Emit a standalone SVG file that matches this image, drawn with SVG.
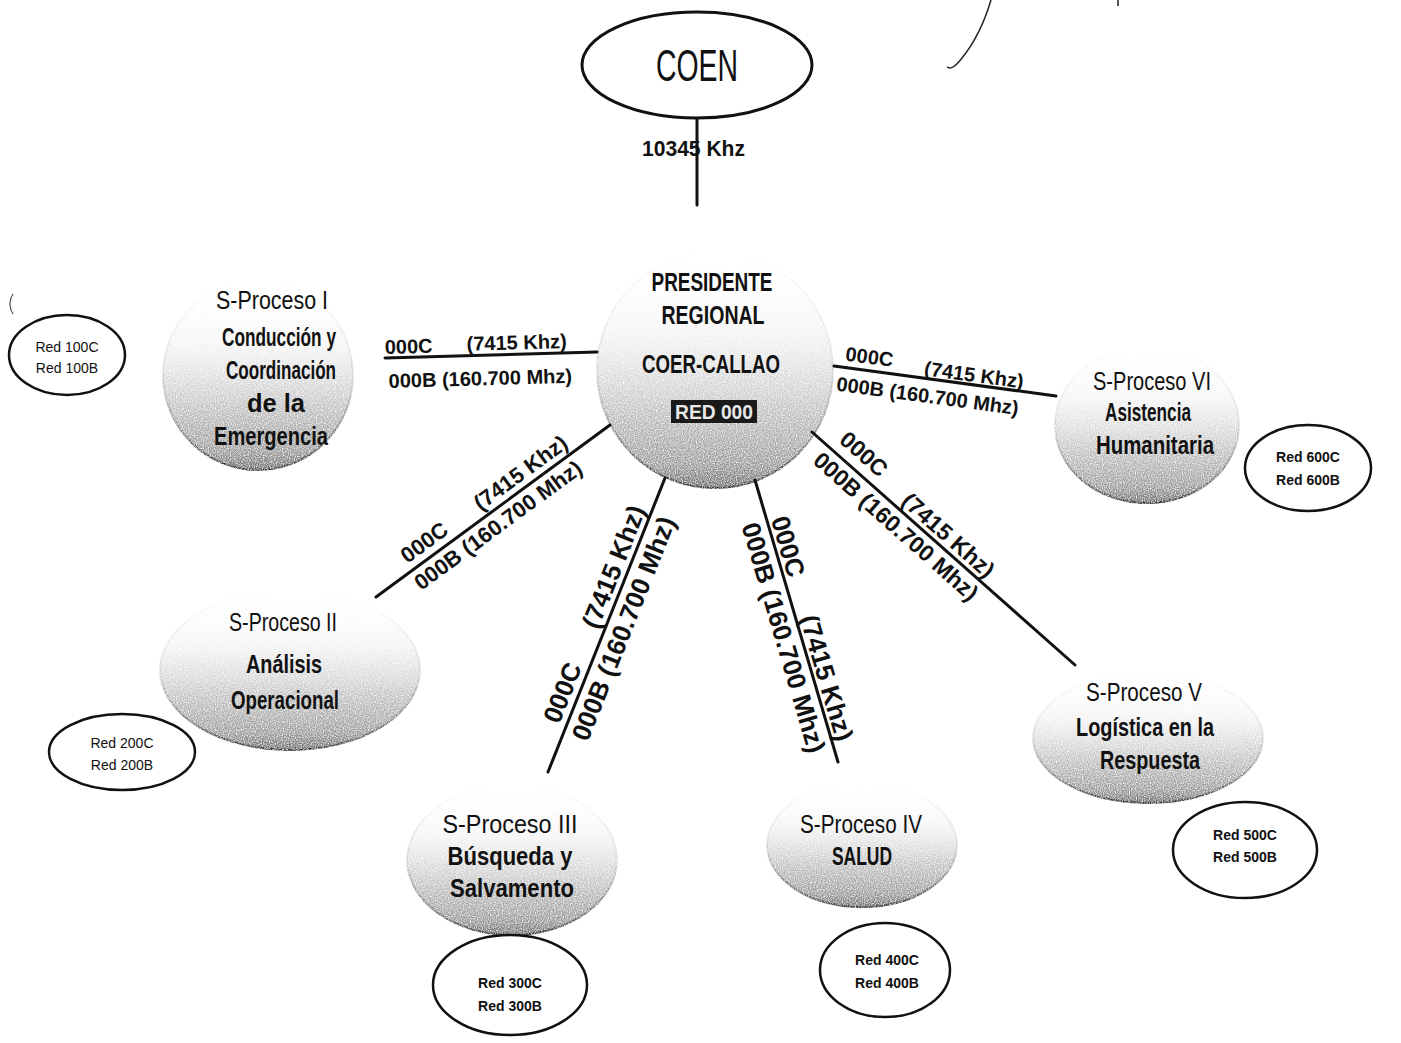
<svg xmlns="http://www.w3.org/2000/svg" width="1401" height="1043" viewBox="0 0 1401 1043">
<style>
.t{font-family:"Liberation Sans",Arial,sans-serif;fill:#111;text-anchor:middle}
.b{font-weight:bold}
.lbl{font-family:"Liberation Sans",Arial,sans-serif;font-weight:bold;fill:#111}
.red{fill:#fff;stroke:#111;stroke-width:2.5}
.rt{font-family:"Liberation Sans",Arial,sans-serif;font-size:14px;fill:#111;text-anchor:middle}
.conn{stroke:#111;stroke-width:3;fill:none;stroke-linecap:round}
.bowl{fill:url(#bowlG);stroke:url(#rimG);stroke-width:2;filter:url(#spk)}
</style>
<defs>
<linearGradient id="bowlG" x1="0" y1="0" x2="0" y2="1">
<stop offset="0" stop-color="#ffffff" stop-opacity="0"/>
<stop offset="0.35" stop-color="#eeeeee" stop-opacity="0.7"/>
<stop offset="0.65" stop-color="#c4c4c4"/>
<stop offset="0.9" stop-color="#9a9a9a"/>
<stop offset="1" stop-color="#6e6e6e"/>
</linearGradient>
<linearGradient id="rimG" x1="0" y1="0" x2="0" y2="1">
<stop offset="0" stop-color="#999" stop-opacity="0"/>
<stop offset="0.5" stop-color="#999" stop-opacity="0.3"/>
<stop offset="1" stop-color="#333"/>
</linearGradient>
<filter id="spk" x="-5%" y="-5%" width="110%" height="110%">
<feTurbulence type="fractalNoise" baseFrequency="0.85" numOctaves="1" seed="3" result="n"/>
<feColorMatrix in="n" type="matrix" values="0 0 0 0 0  0 0 0 0 0  0 0 0 0 0  2.2 0 0 0 -0.35" result="m"/>
<feComposite in="SourceGraphic" in2="m" operator="in"/>
</filter>
</defs>
<rect width="1401" height="1043" fill="#fff"/>

<g id="marks" fill="none" stroke="#222" stroke-width="1.5">
<path d="M991 0 C985 20 975 42 962 58 C956 66 951 70 947 67"/>
<path d="M1118 0 L1118 6"/>
<path d="M13 294 C9 300 9 308 13 314" stroke-width="1"/>
</g>

<g id="node-center">
<circle class="bowl" cx="715" cy="370" r="118"/>
<text class="t b" x="712" y="291" font-size="25" textLength="121" lengthAdjust="spacingAndGlyphs">PRESIDENTE</text>
<text class="t b" x="713" y="324" font-size="25" textLength="103" lengthAdjust="spacingAndGlyphs">REGIONAL</text>
<text class="t b" x="711" y="373" font-size="25" textLength="138" lengthAdjust="spacingAndGlyphs">COER-CALLAO</text>
<rect x="671" y="400" width="86" height="23" fill="#1a1a1a"/>
<text class="t b" x="714" y="419" font-size="21" style="fill:#e8e8e8" textLength="78" lengthAdjust="spacingAndGlyphs">RED 000</text>
</g>

<g id="connectors">
<line class="conn" x1="697" y1="118" x2="697" y2="205" stroke-width="2"/>
<line class="conn" x1="385" y1="358" x2="597" y2="352"/>
<line class="conn" x1="834" y1="366" x2="1056" y2="396"/>
<line class="conn" x1="376" y1="597" x2="610" y2="425"/>
<line class="conn" x1="548" y1="772" x2="665" y2="478"/>
<line class="conn" x1="755" y1="480" x2="838" y2="762"/>
<line class="conn" x1="812" y1="432" x2="1075" y2="665"/>
<text class="lbl" x="642" y="156" font-size="22" textLength="103" lengthAdjust="spacingAndGlyphs">10345 Khz</text>
<g transform="translate(385,358) rotate(-1.6)" font-size="20">
<text class="lbl" x="0" y="-4">000C</text>
<text class="lbl" x="82" y="-5">(7415 Khz)</text>
<text class="lbl" x="3" y="30">000B (160.700 Mhz)</text>
</g>
<g transform="translate(834,366) rotate(7.7)" font-size="20">
<text class="lbl" x="10" y="-7">000C</text>
<text class="lbl" x="90" y="-3">(7415 Khz)</text>
<text class="lbl" x="5" y="24">000B (160.700 Mhz)</text>
</g>
<g transform="translate(376,597) rotate(-36.3)" font-size="22">
<text class="lbl" x="45" y="-8">000C</text>
<text class="lbl" x="135" y="-7">(7415 Khz)</text>
<text class="lbl" x="40" y="22">000B (160.700 Mhz)</text>
</g>
<g transform="translate(548,772) rotate(-68.3)" font-size="26">
<text class="lbl" x="48" y="-7">000C</text>
<text class="lbl" x="150" y="-6">(7415 Khz)</text>
<text class="lbl" x="42" y="26">000B (160.700 Mhz)</text>
</g>
<g transform="translate(755,480) rotate(73.6)" font-size="26">
<text class="lbl" x="42" y="-4">000C</text>
<text class="lbl" x="145" y="-4">(7415 Khz)</text>
<text class="lbl" x="40" y="26">000B (160.700 Mhz)</text>
</g>
<g transform="translate(812,432) rotate(41.5)" font-size="23">
<text class="lbl" x="26" y="-10">000C</text>
<text class="lbl" x="113" y="-5">(7415 Khz)</text>
<text class="lbl" x="20" y="23">000B (160.700 Mhz)</text>
</g>
</g>

<g id="node-coen">
<ellipse cx="697" cy="65" rx="115" ry="53" fill="#fff" stroke="#111" stroke-width="3"/>
<text class="t" x="697" y="81" font-size="44" textLength="82" lengthAdjust="spacingAndGlyphs">COEN</text>
</g>

<g id="node-s1">
<ellipse class="bowl" cx="258" cy="375" rx="95" ry="95"/>
<text class="t" x="272" y="309" font-size="25" textLength="112" lengthAdjust="spacingAndGlyphs">S-Proceso I</text>
<text class="t b" x="279" y="346" font-size="25" textLength="114" lengthAdjust="spacingAndGlyphs">Conducción y</text>
<text class="t b" x="281" y="379" font-size="25" textLength="110" lengthAdjust="spacingAndGlyphs">Coordinación</text>
<text class="t b" x="276" y="412" font-size="25" textLength="58" lengthAdjust="spacingAndGlyphs">de la</text>
<text class="t b" x="271" y="445" font-size="25" textLength="114" lengthAdjust="spacingAndGlyphs">Emergencia</text>
</g>
<g id="red-100">
<ellipse class="red" cx="67" cy="355" rx="58" ry="40"/>
<text class="rt" x="67" y="352">Red 100C</text>
<text class="rt" x="67" y="373">Red 100B</text>
</g>

<g id="node-s2">
<ellipse class="bowl" cx="290" cy="670" rx="130" ry="80"/>
<text class="t" x="283" y="631" font-size="25" textLength="108" lengthAdjust="spacingAndGlyphs">S-Proceso II</text>
<text class="t b" x="284" y="673" font-size="25" textLength="76" lengthAdjust="spacingAndGlyphs">Análisis</text>
<text class="t b" x="285" y="709" font-size="25" textLength="108" lengthAdjust="spacingAndGlyphs">Operacional</text>
</g>
<g id="red-200">
<ellipse class="red" cx="122" cy="752" rx="73" ry="38"/>
<text class="rt" x="122" y="748">Red 200C</text>
<text class="rt" x="122" y="770">Red 200B</text>
</g>

<g id="node-s3">
<ellipse class="bowl" cx="512" cy="860" rx="105" ry="75"/>
<text class="t" x="510" y="833" font-size="25" textLength="135" lengthAdjust="spacingAndGlyphs">S-Proceso III</text>
<text class="t b" x="510" y="865" font-size="25" textLength="125" lengthAdjust="spacingAndGlyphs">Búsqueda y</text>
<text class="t b" x="512" y="897" font-size="25" textLength="124" lengthAdjust="spacingAndGlyphs">Salvamento</text>
</g>
<g id="red-300">
<ellipse class="red" cx="510" cy="985" rx="77" ry="50"/>
<text class="rt b" x="510" y="988">Red 300C</text>
<text class="rt b" x="510" y="1011">Red 300B</text>
</g>

<g id="node-s4">
<ellipse class="bowl" cx="862" cy="845" rx="95" ry="62"/>
<text class="t" x="861" y="833" font-size="25" textLength="122" lengthAdjust="spacingAndGlyphs">S-Proceso IV</text>
<text class="t b" x="862" y="865" font-size="25" textLength="60" lengthAdjust="spacingAndGlyphs">SALUD</text>
</g>
<g id="red-400">
<ellipse class="red" cx="885" cy="970" rx="65" ry="47"/>
<text class="rt b" x="887" y="965">Red 400C</text>
<text class="rt b" x="887" y="988">Red 400B</text>
</g>

<g id="node-s5">
<ellipse class="bowl" cx="1148" cy="738" rx="115" ry="65"/>
<text class="t" x="1144" y="701" font-size="25" textLength="116" lengthAdjust="spacingAndGlyphs">S-Proceso V</text>
<text class="t b" x="1145" y="736" font-size="25" textLength="138" lengthAdjust="spacingAndGlyphs">Logística en la</text>
<text class="t b" x="1150" y="769" font-size="25" textLength="100" lengthAdjust="spacingAndGlyphs">Respuesta</text>
</g>
<g id="red-500">
<ellipse class="red" cx="1245" cy="850" rx="72" ry="48"/>
<text class="rt b" x="1245" y="840">Red 500C</text>
<text class="rt b" x="1245" y="862">Red 500B</text>
</g>

<g id="node-s6">
<ellipse class="bowl" cx="1147" cy="425" rx="92" ry="78"/>
<text class="t" x="1152" y="390" font-size="25" textLength="118" lengthAdjust="spacingAndGlyphs">S-Proceso VI</text>
<text class="t b" x="1148" y="421" font-size="25" textLength="86" lengthAdjust="spacingAndGlyphs">Asistencia</text>
<text class="t b" x="1155" y="454" font-size="25" textLength="118" lengthAdjust="spacingAndGlyphs">Humanitaria</text>
</g>
<g id="red-600">
<ellipse class="red" cx="1308" cy="468" rx="63" ry="43"/>
<text class="rt b" x="1308" y="462">Red 600C</text>
<text class="rt b" x="1308" y="485">Red 600B</text>
</g>
</svg>
